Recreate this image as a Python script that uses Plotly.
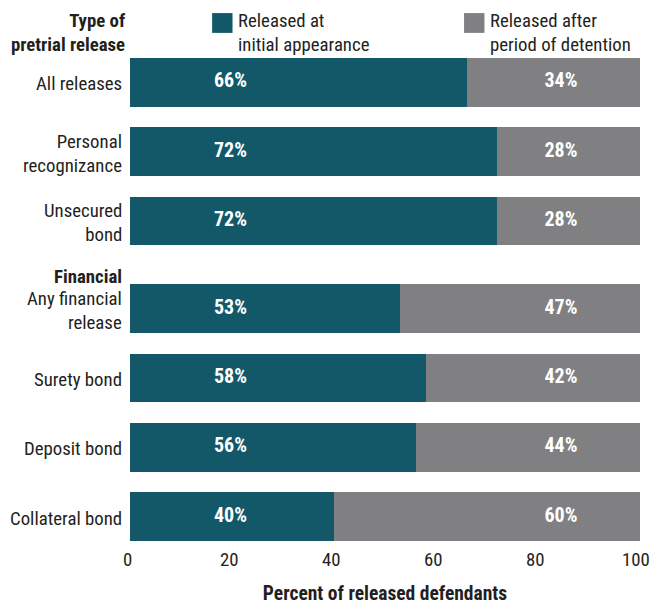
import plotly.graph_objects as go

categories = ["All releases", "Personal<br>recognizance", "Unsecured<br>bond",
              "Any financial<br>release", "Surety bond", "Deposit bond", "Collateral bond"]
initial = [66, 72, 72, 53, 58, 56, 40]
after = [34, 28, 28, 47, 42, 44, 60]
series_names = ["Released at<br>initial appearance", "Released after<br>period of detention"]
x_ticks = [0, 20, 40, 60, 80, 100]

TEAL = "#135868"
GRAY = "#808083"
TXT = "#231f20"
FONT = "Roboto Condensed, Liberation Sans Narrow, sans-serif"
LBL = 18.8

gap = 0.266
pos = [i + (gap if i >= 3 else 0) for i in range(len(categories))]
bw = 0.705

fig = go.Figure()
fig.add_trace(go.Bar(y=pos, x=initial, orientation="h", marker=dict(color=TEAL, line_width=0),
                     width=bw, name=series_names[0], showlegend=False, hoverinfo="x"))
fig.add_trace(go.Bar(y=pos, x=after, base=initial, orientation="h", marker=dict(color=GRAY, line_width=0),
                     width=bw, name=series_names[1], showlegend=False, hoverinfo="x"))
fig.add_trace(go.Scatter(y=pos, x=[19.7] * len(pos), mode="text", text=[f"<b>{v}%</b>" for v in initial],
                         textfont=dict(color="white", size=20, family=FONT), showlegend=False,
                         hoverinfo="skip"))
fig.add_trace(go.Scatter(y=pos, x=[84.5] * len(pos), mode="text", text=[f"<b>{v}%</b>" for v in after],
                         textfont=dict(color="white", size=20, family=FONT), showlegend=False,
                         hoverinfo="skip"))

ann = []
for p, c in zip(pos, categories):
    ann.append(dict(x=0, xref="paper", y=p, yref="y", text=c, xanchor="right", yanchor="middle",
                    xshift=-6, yshift=-2, align="right", showarrow=False,
                    font=dict(size=LBL, color=TXT, family=FONT)))
ann.append(dict(x=0, xref="paper", y=pos[3] - 0.45, yref="y", text="<b>Financial</b>", xanchor="right",
                yanchor="middle", xshift=-6, yshift=1, align="right", showarrow=False,
                font=dict(size=LBL, color=TXT, family=FONT)))
ann.append(dict(x=0, xref="paper", y=1.0, yref="paper", text="<b>Type of<br>pretrial release</b>",
                xanchor="right", yanchor="bottom", xshift=-3, align="right", showarrow=False,
                font=dict(size=LBL, color=TXT, family=FONT)))

# x-axis tick labels (drawn as annotations so that "100" stays inside the page)
for t in x_ticks:
    ann.append(dict(x=t, xref="x", y=0, yref="paper", text=str(t), xanchor="center", yanchor="middle",
                    xshift=-4 if t == 100 else -3, yshift=-19, showarrow=False,
                    font=dict(size=LBL, color=TXT, family=FONT)))

shapes = []
for x0, col, name in [(0.161, TEAL, series_names[0]), (0.655, GRAY, series_names[1])]:
    shapes.append(dict(type="rect", xref="paper", yref="paper", x0=x0, x1=x0 + 0.04,
                       y0=1.052, y1=1.093, fillcolor=col, line_width=0))
    ann.append(dict(x=x0 + 0.046, xref="paper", y=1.0, yref="paper", text=name, xanchor="left",
                    yanchor="bottom", align="left", showarrow=False,
                    font=dict(size=LBL, color=TXT, family=FONT)))

fig.update_layout(
    width=652, height=610,
    margin=dict(l=130, r=12, t=58, b=69),
    paper_bgcolor="white", plot_bgcolor="white",
    barmode="overlay",
    bargap=0,
    annotations=ann, shapes=shapes,
    font=dict(family=FONT, color=TXT, size=LBL),
    xaxis=dict(range=[0, 100], tickvals=x_ticks, showticklabels=False,
               showgrid=False, zeroline=False, showline=False, ticks="", automargin=False,
               title=dict(text="<b>Percent of released defendants</b>", standoff=45,
                          font=dict(size=19.5, color=TXT, family=FONT))),
    yaxis=dict(range=[pos[-1] + bw / 2, -bw / 2], showticklabels=False, showgrid=False,
               zeroline=False, showline=False, ticks="", automargin=False),
)

fig.write_html("out.html", config={"displayModeBar": False},
               post_script="document.body.style.margin='0';")
